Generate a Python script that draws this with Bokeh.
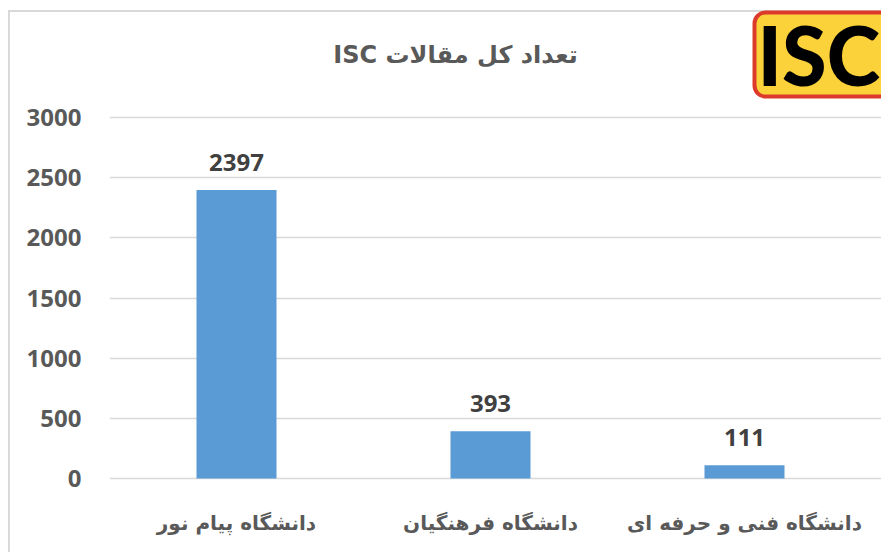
from bokeh.plotting import figure
from bokeh.models import (ColumnDataSource, Range1d, FixedTicker, LabelSet, Label)
from bokeh.core.properties import value
from bokeh.embed import file_html
from bokeh.resources import INLINE

# ---- data ----
categories = ["دانشگاه پیام نور", "دانشگاه فرهنگیان", "دانشگاه فنی و حرفه ای"]
values = [2397, 393, 111]
value_labels = [str(v) for v in values]
y_ticks = [0, 500, 1000, 1500, 2000, 2500, 3000]
title_text = "\u202bتعداد کل مقالات ISC\u202c"
logo_text = "ISC"

W, H = 881, 552
FL, FB = 109, 480          # frame left / bottom (page px)
K = 361 / 3000             # px per unit on the y axis
ZERO_Y = 478               # page y of value 0
CAT_W = 254                # px per category
FIRST_X = 236              # page x of the first category centre

xs = list(range(len(categories)))


def sx(X):
    return X - FL


def sy(Y):
    return FB - Y


source = ColumnDataSource(dict(x=xs, val=values, lab=value_labels))

x_start = -(FIRST_X - FL) / CAT_W
x_end = x_start + (W - FL) / CAT_W
y_start = -(FB - ZERO_Y) / K
y_end = ZERO_Y / K

p = figure(width=W, height=H, x_range=Range1d(x_start, x_end),
           y_range=Range1d(y_start, y_end), output_backend="svg",
           toolbar_location=None, min_border_left=FL, min_border_right=0,
           min_border_top=0, min_border_bottom=H - FB)
p.title.visible = False

p.vbar(x="x", top="val", width=0.315, source=source,
       fill_color="#5b9bd5", line_color=None)

p.outline_line_color = None
p.background_fill_color = None
p.border_fill_color = None
p.styles = {
    "background": ("linear-gradient(#d9d9d9, #d9d9d9) 8px 10px / 2px 100% no-repeat, "
                   "linear-gradient(#d9d9d9, #d9d9d9) 8px 10px / 100% 2px no-repeat, "
                   "white"),
}
p.xgrid.grid_line_color = None
p.ygrid.grid_line_color = "#d9d9d9"
p.ygrid.grid_line_width = 1.5
p.yaxis.ticker = FixedTicker(ticks=y_ticks)
p.xaxis.ticker = FixedTicker(ticks=xs)
p.xaxis.major_label_overrides = {i: c for i, c in zip(xs, categories)}

for ax in (p.xaxis, p.yaxis):
    ax.axis_line_color = None
    ax.major_tick_line_color = None
    ax.minor_tick_line_color = None
    ax.major_label_text_font_style = "bold"
    ax.major_label_text_color = "#595959"

p.yaxis.major_label_text_font = "Open Sans"
p.yaxis.major_label_text_font_size = "24px"
p.yaxis.major_label_standoff = 22
p.xaxis.major_label_text_font = "DejaVu Sans"
p.xaxis.major_label_text_font_size = "20px"
p.xaxis.major_label_standoff = 24

labels = LabelSet(x="x", y="val", text="lab", source=source,
                  text_align="center", text_baseline="alphabetic", y_offset=19,
                  text_font=value("Open Sans"), text_font_style="bold",
                  text_font_size="24px", text_color="#404040")
p.add_layout(labels)

# title
title = Label(x=sx(455), y=sy(54), x_units="screen", y_units="screen",
              text=title_text, text_align="center", text_baseline="middle",
              text_font="DejaVu Sans", text_font_style="bold",
              text_font_size="24px", text_color="#595959")
p.add_layout(title)

# logo box
logo_box = Label(x=sx(754), y=sy(12), x_units="screen", y_units="screen",
                 text=" ", text_font_size="1px", text_align="left",
                 text_baseline="top",
                 padding=dict(left=0, right=140, top=0, bottom=83),
                 background_fill_color="#fcd23a", background_fill_alpha=1.0,
                 border_line_color="#dc3a2b", border_line_width=4,
                 border_radius=11)
p.add_layout(logo_box)

logo = Label(x=sx(757), y=sy(54), x_units="screen", y_units="screen",
             text=logo_text, text_align="left", text_baseline="middle",
             text_font="Lato Black, Roboto Black, Liberation Sans",
             text_font_style="bold",
             text_font_size="81px", text_color="black")
p.add_layout(logo)

open("out.html", "w").write(file_html(p, INLINE))
